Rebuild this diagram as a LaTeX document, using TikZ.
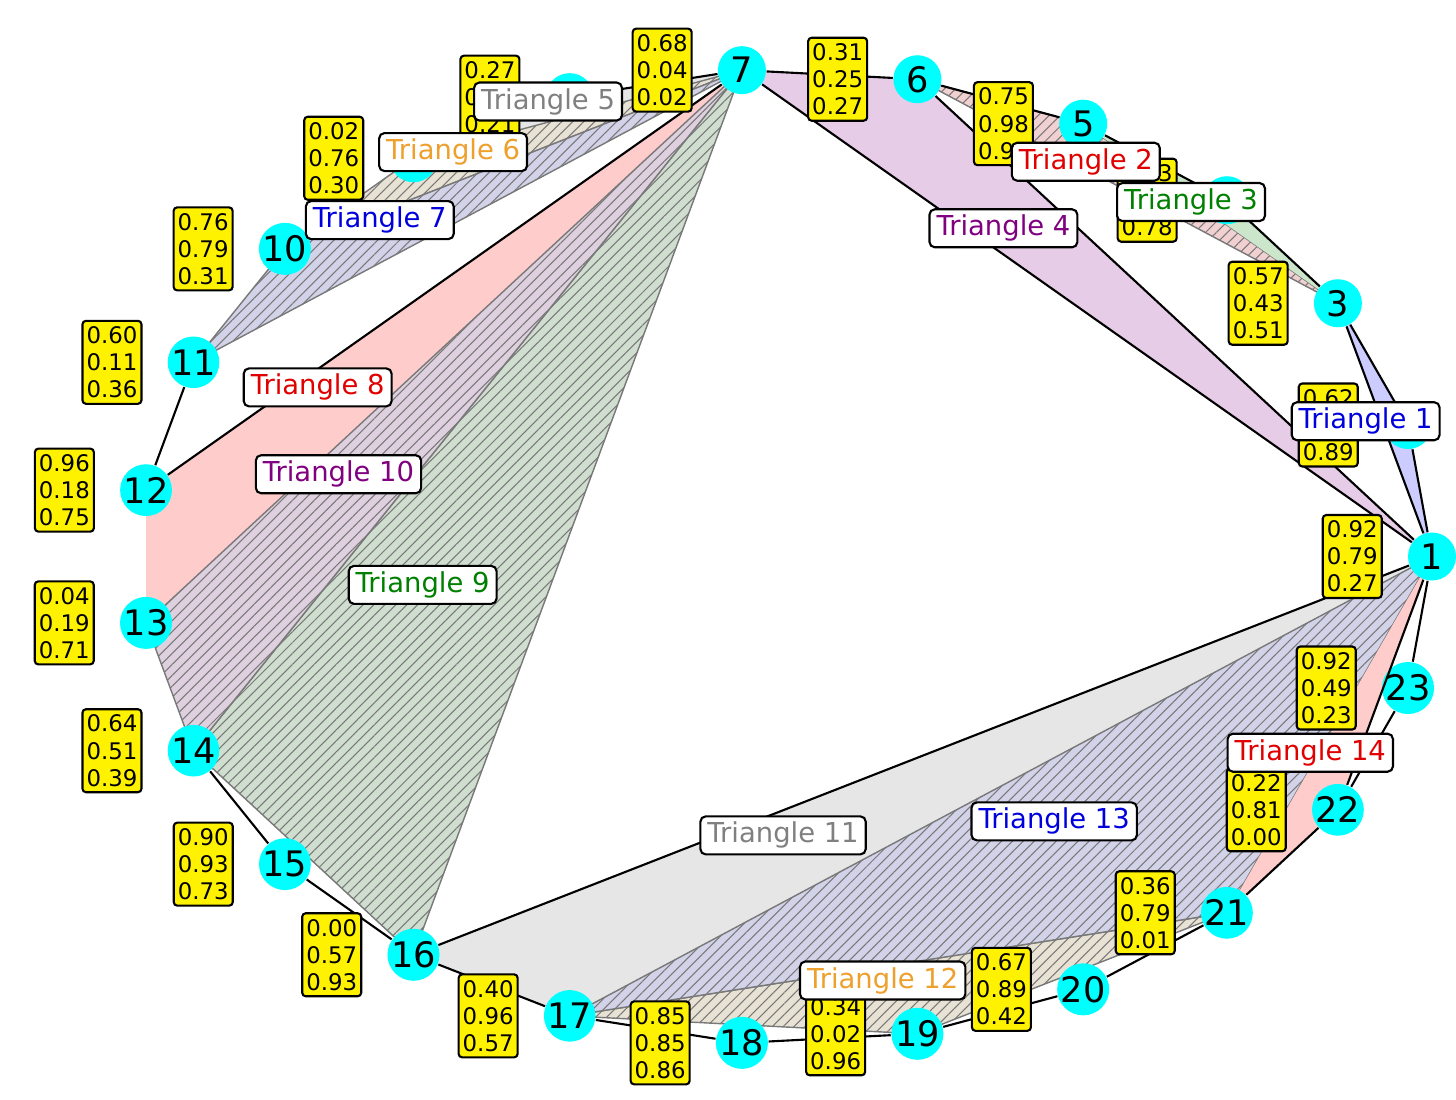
\documentclass[tikz,border=0pt]{standalone}
\usepackage{fontspec}
\setmainfont{DejaVu Sans}
\usepackage{xcolor}
\usepackage{tikz}
\usetikzlibrary{positioning, calc, patterns.meta}

\definecolor{aqua}{RGB}{0,255,255}
\definecolor{fillB}{RGB}{204,204,255}
\definecolor{fillR}{RGB}{255,204,204}
\definecolor{fillG}{RGB}{204,230,204}
\definecolor{fillP}{RGB}{230,204,230}
\definecolor{fillK}{RGB}{230,230,230}
\definecolor{fillO}{RGB}{255,237,204}
\definecolor{hfillB}{RGB}{210,210,232}
\definecolor{hfillR}{RGB}{240,208,208}
\definecolor{hfillG}{RGB}{208,222,208}
\definecolor{hfillP}{RGB}{222,208,222}
\definecolor{hfillO}{RGB}{232,226,212}
\definecolor{txtB}{RGB}{0,0,220}
\definecolor{txtR}{RGB}{225,0,0}
\definecolor{txtG}{RGB}{0,128,0}
\definecolor{txtP}{RGB}{128,0,128}
\definecolor{txtK}{RGB}{128,128,128}
\definecolor{txtO}{RGB}{238,160,45}
\definecolor{hatchgray}{RGB}{120,120,120}

\pgfdeclarelayer{background}
\pgfsetlayers{background,main}

\tikzstyle{vertex} = [circle, fill=aqua, minimum size=0.48cm, inner sep=0pt, font=\fontsize{10}{12}\selectfont]
\tikzstyle{valbox} = [rectangle, rounded corners=1pt, fill=yellow, draw=black, line width=0.6pt, minimum width=0.59cm, minimum height=0.83cm, inner sep=0.5pt, align=center, font=\fontsize{6.5}{7.7}\selectfont]
\tikzstyle{trilabel} = [rectangle, rounded corners=1.5pt, fill=white, draw=black, line width=0.6pt, inner xsep=2pt, inner ysep=1.5pt, minimum height=0.38cm, font=\fontsize{7.8}{9}\selectfont]
\tikzstyle{edge} = [draw=black, line width=0.6pt]
\tikzstyle{hatched} = [pattern={Lines[angle=45,distance=2.2pt,line width=0.3pt]}, pattern color=hatchgray, draw=hatchgray, line width=0.4pt]

\begin{document}
\begin{tikzpicture}
        \useasboundingbox (-7.86,-5.425) rectangle (6.70,5.565);

        % vertices on the ellipse
        \node[vertex] (v1) at (0:6.46 and 4.875) {1};
        \node[vertex] (v2) at (15.652:6.46 and 4.875) {2};
        \node[vertex] (v3) at (31.304:6.46 and 4.875) {3};
        \node[vertex] (v4) at (46.957:6.46 and 4.875) {4};
        \node[vertex] (v5) at (62.609:6.46 and 4.875) {5};
        \node[vertex] (v6) at (78.261:6.46 and 4.875) {6};
        \node[vertex] (v7) at (93.913:6.46 and 4.875) {7};
        \node[vertex] (v8) at (109.565:6.46 and 4.875) {8};
        \node[vertex] (v9) at (125.217:6.46 and 4.875) {9};
        \node[vertex] (v10) at (140.870:6.46 and 4.875) {10};
        \node[vertex] (v11) at (156.522:6.46 and 4.875) {11};
        \node[vertex] (v12) at (172.174:6.46 and 4.875) {12};
        \node[vertex] (v13) at (187.826:6.46 and 4.875) {13};
        \node[vertex] (v14) at (203.478:6.46 and 4.875) {14};
        \node[vertex] (v15) at (219.130:6.46 and 4.875) {15};
        \node[vertex] (v16) at (234.783:6.46 and 4.875) {16};
        \node[vertex] (v17) at (250.435:6.46 and 4.875) {17};
        \node[vertex] (v18) at (266.087:6.46 and 4.875) {18};
        \node[vertex] (v19) at (281.739:6.46 and 4.875) {19};
        \node[vertex] (v20) at (297.391:6.46 and 4.875) {20};
        \node[vertex] (v21) at (313.043:6.46 and 4.875) {21};
        \node[vertex] (v22) at (328.696:6.46 and 4.875) {22};
        \node[vertex] (v23) at (344.348:6.46 and 4.875) {23};

        % triangles
        \begin{pgfonlayer}{background}
        \fill[fillB] (v1.center) -- (v2.center) -- (v3.center) -- cycle;
        \draw[hatched, preaction={fill=hfillR}] (v3.center) -- (v5.center) -- (v6.center) -- cycle;
        \fill[fillG] (v3.center) -- (v4.center) -- (v5.center) -- cycle;
        \fill[fillP] (v1.center) -- (v6.center) -- (v7.center) -- cycle;
        \fill[fillK] (v7.center) -- (v8.center) -- (v9.center) -- cycle;
        \draw[hatched, preaction={fill=hfillO}] (v7.center) -- (v9.center) -- (v10.center) -- cycle;
        \draw[hatched, preaction={fill=hfillB}] (v7.center) -- (v10.center) -- (v11.center) -- cycle;
        \fill[fillR] (v7.center) -- (v12.center) -- (v13.center) -- cycle;
        \draw[hatched, preaction={fill=hfillG}] (v7.center) -- (v14.center) -- (v16.center) -- cycle;
        \draw[hatched, preaction={fill=hfillP}] (v7.center) -- (v13.center) -- (v14.center) -- cycle;
        \fill[fillK] (v1.center) -- (v16.center) -- (v17.center) -- cycle;
        \draw[hatched, preaction={fill=hfillO}] (v17.center) -- (v19.center) -- (v21.center) -- cycle;
        \draw[hatched, preaction={fill=hfillB}] (v1.center) -- (v17.center) -- (v21.center) -- cycle;
        \fill[fillR] (v1.center) -- (v21.center) -- (v22.center) -- cycle;
        \end{pgfonlayer}

        % edges
        \draw[edge] (v1) -- (v2);
        \draw[edge] (v2) -- (v3);
        \draw[edge] (v3) -- (v4);
        \draw[edge] (v4) -- (v5);
        \draw[edge] (v5) -- (v6);
        \draw[edge] (v6) -- (v7);
        \draw[edge] (v7) -- (v8);
        \draw[edge] (v11) -- (v12);
        \draw[edge] (v14) -- (v15);
        \draw[edge] (v15) -- (v16);
        \draw[edge] (v16) -- (v17);
        \draw[edge] (v17) -- (v18);
        \draw[edge] (v18) -- (v19);
        \draw[edge] (v19) -- (v20);
        \draw[edge] (v20) -- (v21);
        \draw[edge] (v21) -- (v22);
        \draw[edge] (v22) -- (v23);
        \draw[edge] (v23) -- (v1);
        \draw[edge] (v3) -- (v1);
        \draw[edge] (v6) -- (v1);
        \draw[edge] (v7) -- (v1);
        \draw[edge] (v7) -- (v12);
        \draw[edge] (v16) -- (v1);
        \draw[edge] (v22) -- (v1);

        % values
        \node[valbox, left=0.245cm of v1] (b1) {0.92\\0.79\\0.27};
        \node[valbox, left=0.245cm of v2] (b2) {0.62\\0.48\\0.89};
        \node[valbox, left=0.245cm of v3] (b3) {0.57\\0.43\\0.51};
        \node[valbox, left=0.245cm of v4] (b4) {0.53\\0.14\\0.78};
        \node[valbox, left=0.245cm of v5] (b5) {0.75\\0.98\\0.96};
        \node[valbox, left=0.245cm of v6] (b6) {0.31\\0.25\\0.27};
        \node[valbox, left=0.245cm of v7] (b7) {0.68\\0.04\\0.02};
        \node[valbox, left=0.245cm of v8] (b8) {0.27\\0.05\\0.21};
        \node[valbox, left=0.245cm of v9] (b9) {0.02\\0.76\\0.30};
        \node[valbox, left=0.245cm of v10] (b10) {0.76\\0.79\\0.31};
        \node[valbox, left=0.245cm of v11] (b11) {0.60\\0.11\\0.36};
        \node[valbox, left=0.245cm of v12] (b12) {0.96\\0.18\\0.75};
        \node[valbox, left=0.245cm of v13] (b13) {0.04\\0.19\\0.71};
        \node[valbox, left=0.245cm of v14] (b14) {0.64\\0.51\\0.39};
        \node[valbox, left=0.245cm of v15] (b15) {0.90\\0.93\\0.73};
        \node[valbox, left=0.245cm of v16] (b16) {0.00\\0.57\\0.93};
        \node[valbox, left=0.245cm of v17] (b17) {0.40\\0.96\\0.57};
        \node[valbox, left=0.245cm of v18] (b18) {0.85\\0.85\\0.86};
        \node[valbox, left=0.245cm of v19] (b19) {0.34\\0.02\\0.96};
        \node[valbox, left=0.245cm of v20] (b20) {0.67\\0.89\\0.42};
        \node[valbox, left=0.245cm of v21] (b21) {0.36\\0.79\\0.01};
        \node[valbox, left=0.245cm of v22] (b22) {0.22\\0.81\\0.00};
        \node[valbox, left=0.245cm of v23] (b23) {0.92\\0.49\\0.23};

        % triangle labels
        \node[trilabel, text=txtB] (t1) at ($1/3*(v1)+1/3*(v2)+1/3*(v3)+(-0.27,0.07)$) {Triangle 1};
        \node[trilabel, text=txtR] (t2) at ($1/3*(v3)+1/3*(v5)+1/3*(v6)+(-0.27,0.07)$) {Triangle 2};
        \node[trilabel, text=txtG] (t3) at ($1/3*(v3)+1/3*(v4)+1/3*(v5)+(-0.25,0.07)$) {Triangle 3};
        \node[trilabel, text=txtP] (t4) at ($1/3*(v1)+1/3*(v6)+1/3*(v7)+(-0.27,0.07)$) {Triangle 4};
        \node[trilabel, text=txtK] (t5) at ($1/3*(v7)+1/3*(v8)+1/3*(v9)+(-0.27,0.07)$) {Triangle 5};
        \node[trilabel, text=txtO] (t6) at ($1/3*(v7)+1/3*(v9)+1/3*(v10)+(-0.27,0.07)$) {Triangle 6};
        \node[trilabel, text=txtB] (t7) at ($1/3*(v7)+1/3*(v10)+1/3*(v11)+(-0.27,0.07)$) {Triangle 7};
        \node[trilabel, text=txtR] (t8) at ($1/3*(v7)+1/3*(v12)+1/3*(v13)+(-0.27,0.07)$) {Triangle 8};
        \node[trilabel, text=txtG] (t9) at ($1/3*(v7)+1/3*(v14)+1/3*(v16)+(-0.27,0.07)$) {Triangle 9};
        \node[trilabel, text=txtP] (t10) at ($1/3*(v7)+1/3*(v13)+1/3*(v14)+(-0.22,0.07)$) {Triangle 10};
        \node[trilabel, text=txtK] (t11) at ($1/3*(v1)+1/3*(v16)+1/3*(v17)+(-0.22,0.07)$) {Triangle 11};
        \node[trilabel, text=txtO] (t12) at ($1/3*(v17)+1/3*(v19)+1/3*(v21)+(-0.22,0.07)$) {Triangle 12};
        \node[trilabel, text=txtB] (t13) at ($1/3*(v1)+1/3*(v17)+1/3*(v21)+(-0.22,0.07)$) {Triangle 13};
        \node[trilabel, text=txtR] (t14) at ($1/3*(v1)+1/3*(v21)+1/3*(v22)+(-0.22,0.07)$) {Triangle 14};
\end{tikzpicture}
\end{document}
